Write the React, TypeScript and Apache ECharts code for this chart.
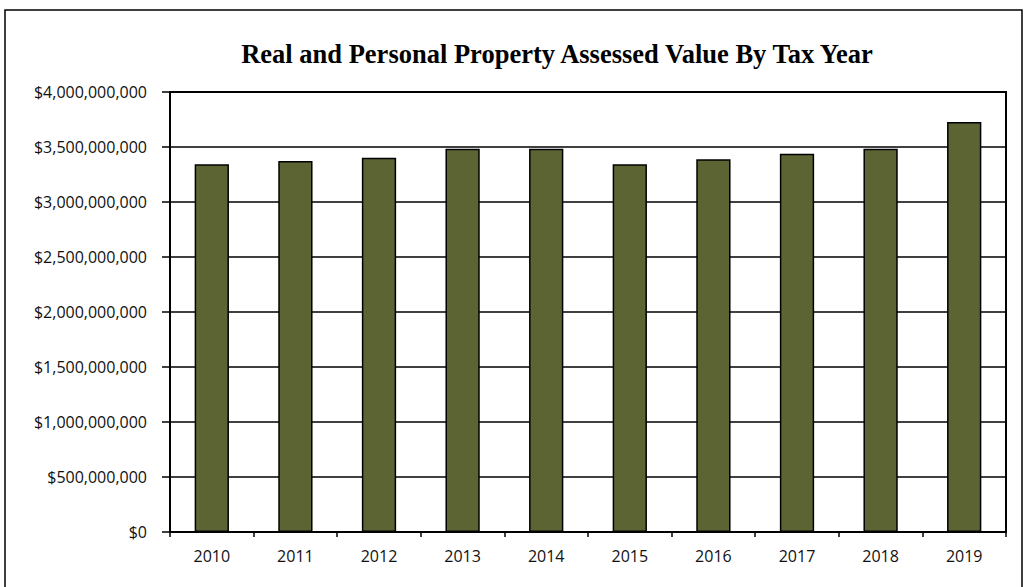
import React, { useEffect, useRef } from "react";
import * as echarts from "echarts";

const years = ["2010", "2011", "2012", "2013", "2014", "2015", "2016", "2017", "2018", "2019"];
const assessedValues = [
  3343000000, 3373000000, 3403000000, 3485000000, 3485000000,
  3343000000, 3388000000, 3439000000, 3485000000, 3727000000,
];
const chartTitle = "Real and Personal Property Assessed Value By Tax Year";

export default function App() {
  const ref = useRef<HTMLDivElement>(null);
  useEffect(() => {
    if (!ref.current) return;
    const chart = echarts.init(ref.current, null, { renderer: "svg" });
    chart.setOption({
      animation: false,
      backgroundColor: "#ffffff",
      graphic: [
        {
          type: "rect",
          shape: { x: 5, y: 10, width: 1017, height: 600 },
          style: { fill: "none", stroke: "#000", lineWidth: 1.5 },
          silent: true,
        },
        {
          type: "text",
          x: 557,
          y: 54,
          style: {
            text: chartTitle,
            fontFamily: "Liberation Serif",
            fontWeight: "bold",
            fontSize: 26.5,
            fill: "#000",
            align: "center",
            verticalAlign: "middle",
          },
        },
      ],
      grid: {
        left: 170,
        right: 20,
        top: 92,
        bottom: 55,
        show: true,
        borderColor: "#000",
        borderWidth: 2,
        backgroundColor: "transparent",
      },
      xAxis: {
        type: "category",
        data: years,
        axisLine: { show: true, lineStyle: { color: "#000", width: 2 } },
        axisTick: { show: true, alignWithLabel: false, length: 5, lineStyle: { color: "#000", width: 1.5 } },
        axisLabel: { color: "#111", fontFamily: "Open Sans", fontSize: 16, margin: 16 },
        splitLine: { show: false },
      },
      yAxis: {
        type: "value",
        min: 0,
        max: 4000000000,
        interval: 500000000,
        axisLine: { show: true, lineStyle: { color: "#000", width: 2 } },
        axisTick: { show: true, length: 8, lineStyle: { color: "#000", width: 1.5 } },
        axisLabel: {
          color: "#111",
          fontFamily: "Open Sans",
          fontSize: 16,
          margin: 23,
          formatter: (v: number) => "$" + v.toLocaleString("en-US"),
        },
        splitLine: { show: true, lineStyle: { color: "#000", width: 1.5 } },
      },
      series: [
        {
          type: "bar",
          data: assessedValues,
          barWidth: "41%",
          itemStyle: { color: "#5C6434", borderColor: "#000", borderWidth: 1.5 },
        },
      ],
    });
    return () => chart.dispose();
  }, []);
  return (
    <div
      ref={ref}
      style={{ position: "fixed", left: 0, top: 0, width: 1026, height: 587 }}
    />
  );
}
